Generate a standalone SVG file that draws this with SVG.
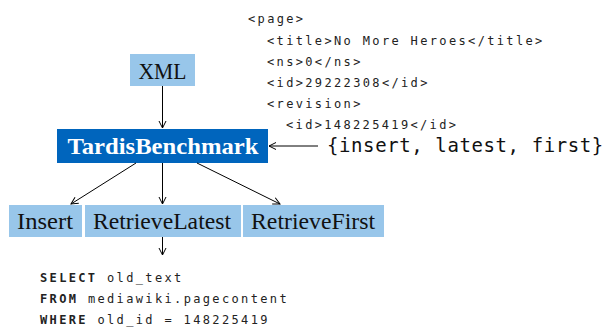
<svg xmlns="http://www.w3.org/2000/svg" width="603" height="327" viewBox="0 0 603 327">
<style>
.light{fill:#98C6EA}
.dark{fill:#0065BD}
.lbl{font-family:"Liberation Serif",serif;font-size:23px;fill:#111;text-anchor:middle}
.lblw{font-family:"Liberation Serif",serif;font-size:23px;font-weight:bold;fill:#fff;text-anchor:middle}
.code{font-family:"DejaVu Sans Mono",monospace;font-size:12px;letter-spacing:2.35px;fill:#222}
.big{font-family:"DejaVu Sans Mono",monospace;font-size:19px;letter-spacing:0.6px;fill:#111}
.b{font-weight:bold}
.edge{stroke:#000;stroke-width:1;fill:none;marker-end:url(#ah)}
</style>
<defs>
<marker id="ah" markerWidth="10" markerHeight="10" refX="8" refY="5" orient="auto" markerUnits="userSpaceOnUse">
<path d="M1,1.5 L8,5 L1,8.5" fill="none" stroke="#000" stroke-width="1"/>
</marker>
</defs>
<rect width="603" height="327" fill="#fff"/>
<g id="xml"><rect class="light" x="130" y="54" width="65" height="32"/><text class="lbl" x="162.5" y="79" textLength="48" lengthAdjust="spacingAndGlyphs">XML</text></g>
<g id="tardis"><rect class="dark" x="57" y="129" width="211" height="34"/><text class="lblw" x="163" y="154" textLength="191" lengthAdjust="spacingAndGlyphs">TardisBenchmark</text></g>
<g id="insert"><rect class="light" x="9" y="205" width="73" height="32"/><text class="lbl" x="45" y="229" textLength="56" lengthAdjust="spacingAndGlyphs">Insert</text></g>
<g id="latest"><rect class="light" x="85" y="205" width="156" height="32"/><text class="lbl" x="162" y="229" textLength="138" lengthAdjust="spacingAndGlyphs">RetrieveLatest</text></g>
<g id="first"><rect class="light" x="243" y="205" width="141" height="32"/><text class="lbl" x="313" y="229" textLength="124" lengthAdjust="spacingAndGlyphs">RetrieveFirst</text></g>
<g id="xmlcode">
<text class="code" x="248" y="23">&lt;page&gt;</text>
<text class="code" x="267" y="44.5">&lt;title&gt;No More Heroes&lt;/title&gt;</text>
<text class="code" x="267" y="66">&lt;ns&gt;0&lt;/ns&gt;</text>
<text class="code" x="267" y="87">&lt;id&gt;29222308&lt;/id&gt;</text>
<text class="code" x="267" y="108">&lt;revision&gt;</text>
<text class="code" x="286" y="129">&lt;id&gt;148225419&lt;/id&gt;</text>
</g>
<g id="ops"><text class="big" x="327" y="152">{insert, latest, first}</text></g>
<g id="sql">
<text class="code" x="40" y="282"><tspan class="b">SELECT</tspan> old_text</text>
<text class="code" x="40" y="303"><tspan class="b">FROM</tspan> mediawiki.pagecontent</text>
<text class="code" x="40" y="324"><tspan class="b">WHERE</tspan> old_id = 148225419</text>
</g>
<g id="connectors">
<line class="edge" x1="162.5" y1="86" x2="162.5" y2="128"/>
<line class="edge" x1="318" y1="146" x2="269" y2="146"/>
<line class="edge" x1="136" y1="163" x2="71" y2="204"/>
<line class="edge" x1="162.5" y1="163" x2="162.5" y2="204"/>
<line class="edge" x1="197" y1="163" x2="280" y2="204"/>
<line class="edge" x1="162.5" y1="237" x2="162.5" y2="255"/>
</g>
</svg>
